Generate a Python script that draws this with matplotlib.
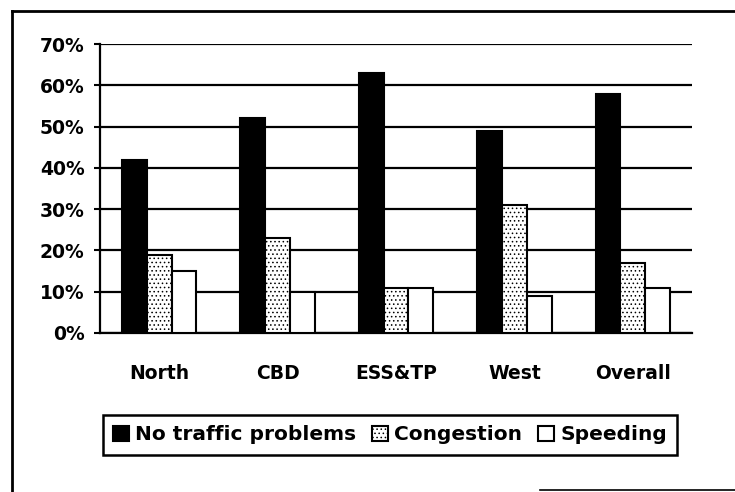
import numpy as np
import matplotlib
matplotlib.use('Agg')
from matplotlib import pyplot as plt
from matplotlib.lines import Line2D

regions = ['North', 'CBD', 'ESS&TP', 'West', 'Overall']
no_problems = [42, 52, 63, 49, 58]
congestion = [19, 23, 11, 31, 17]
speeding = [15, 10, 11, 9, 11]
series_names = ['No traffic problems', 'Congestion', 'Speeding']
y_ticks = [0, 10, 20, 30, 40, 50, 60, 70]

plt.rcParams['font.family'] = 'DejaVu Sans'
plt.rcParams['font.weight'] = 'bold'
plt.rcParams['hatch.linewidth'] = 0.6
plt.rcParams['hatch.color'] = 'black'

fig = plt.figure(figsize=(7.35, 4.92), dpi=100)
ax = fig.add_axes([100 / 735, 1 - 333 / 492, 592 / 735, 289 / 492])

x = np.arange(len(regions))
w = 0.21
ax.bar(x - w, no_problems, w, color='black', edgecolor='black', lw=1.5,
       label=series_names[0], zorder=3)
ax.bar(x, congestion, w, color='white', edgecolor='black', lw=1.5,
       hatch='....', label=series_names[1], zorder=3)
ax.bar(x + w, speeding, w, color='white', edgecolor='black', lw=1.5,
       label=series_names[2], zorder=3)

ax.set_xlim(-0.5, len(regions) - 0.5)
ax.set_ylim(0, 70)
ax.set_yticks(y_ticks)
ax.set_yticklabels([f'{t}%' for t in y_ticks])
ax.set_xticks(x)
ax.set_xticklabels(regions)
ax.yaxis.grid(True, color='black', lw=1.6, zorder=0)
ax.set_axisbelow(True)
for s in ['top', 'right']:
    ax.spines[s].set_visible(False)
ax.spines['left'].set_linewidth(1.6)
ax.spines['bottom'].set_linewidth(1.6)
ax.tick_params(axis='y', length=4, width=1.5, pad=7, labelsize=13.5)
ax.tick_params(axis='x', length=0, pad=22, labelsize=13.5)

leg = fig.legend(loc='center', bbox_to_anchor=(390 / 735, 1 - 435 / 492),
                 ncol=3, frameon=True, fancybox=False, framealpha=1,
                 fontsize=14.5, handlelength=0.8, handleheight=0.8,
                 handletextpad=0.3, columnspacing=0.8, borderpad=0.5,
                 borderaxespad=0)
leg.get_frame().set_edgecolor('black')
leg.get_frame().set_linewidth(1.8)

# outer frame from the scanned page
fig.add_artist(Line2D([12 / 735, 1], [1 - 11 / 492, 1 - 11 / 492], color='black', lw=2))
fig.add_artist(Line2D([12 / 735, 12 / 735], [0, 1 - 11 / 492], color='black', lw=2))
fig.add_artist(Line2D([540 / 735, 1], [2 / 492, 2 / 492], color='black', lw=1.2))

fig.savefig('out.png', dpi=100)
